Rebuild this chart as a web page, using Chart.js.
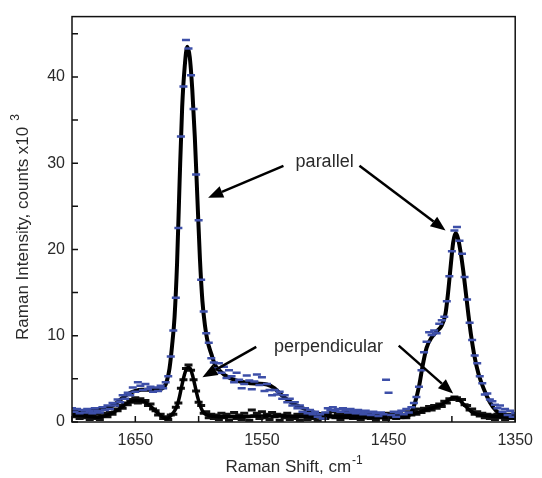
<!DOCTYPE html>
<html>
<head>
<meta charset="utf-8">
<script src="https://cdn.jsdelivr.net/npm/chart.js@4.4.1/dist/chart.umd.min.js"></script>
<style>
  html, body { margin: 0; padding: 0; background: #fff; }
  #wrap { width: 542px; height: 478px; }
</style>
</head>
<body>
<div id="wrap"><canvas id="grafico-raman" width="542" height="478"></canvas></div>
<script>
// Raman shift of the measured points, cm-1 (axis runs high -> low)
const shift = [
  1700,1698,1696,1694,1692,1690,1688,1686,1684,1682,
  1680,1678,1676,1674,1672,1670,1668,1666,1664,1662,
  1660,1658,1656,1654,1652,1650,1648,1646,1644,1642,
  1640,1638,1636,1634,1632,1630,1628,1626,1624,1622,
  1620,1618,1616,1614,1612,1610,1608,1606,1604,1602,
  1600,1598,1596,1594,1592,1590,1588,1586,1584,1582,
  1580,1578,1576,1574,1572,1570,1568,1566,1564,1562,
  1560,1558,1556,1554,1552,1550,1548,1546,1544,1542,
  1540,1538,1536,1534,1532,1530,1528,1526,1524,1522,
  1520,1518,1516,1514,1512,1510,1508,1506,1504,1502,
  1500,1498,1496,1494,1492,1490,1488,1486,1484,1482,
  1480,1478,1476,1474,1472,1470,1468,1466,1464,1462,
  1460,1458,1456,1454,1452,1450,1448,1446,1444,1442,
  1440,1438,1436,1434,1432,1430,1428,1426,1424,1422,
  1420,1418,1416,1414,1412,1410,1408,1406,1404,1402,
  1400,1398,1396,1394,1392,1390,1388,1386,1384,1382,
  1380,1378,1376,1374,1372,1370,1368,1366,1364,1362,
  1360,1358,1356,1354,1352,1350
];

// parallel polarisation, measured (counts x10^3)
const parData = [
  1.6,1.2,1.5,1.0,1.4,1.1,1.5,1.3,1.0,1.6,
  1.3,1.1,1.7,1.4,1.9,1.5,2.2,1.9,2.6,2.3,
  3.1,2.7,3.4,3.1,4.0,3.5,4.6,4.2,3.7,4.4,
  3.8,4.1,3.5,4.0,3.6,4.2,3.9,4.6,5.3,7.6,
  10.6,14.4,22.5,33.1,38.9,44.3,43.3,40.2,36.3,28.7,
  23.4,16.5,12.8,10.3,9.2,7.4,6.9,6.2,6.8,5.7,
  6.4,5.1,6.0,5.3,4.6,5.7,4.9,3.9,4.4,5.4,
  4.8,3.8,4.7,5.5,4.3,5.2,3.6,4.4,3.7,3.1,
  3.7,3.2,3.5,2.7,3.1,2.3,2.7,1.9,2.3,1.6,
  1.9,1.2,1.6,1.0,1.4,0.9,1.2,0.6,0.9,0.4,
  1.1,1.6,1.4,1.7,1.3,1.5,1.2,1.6,1.4,1.1,
  1.5,1.3,1.0,1.4,1.2,0.9,1.3,1.1,0.8,1.2,
  1.0,0.7,1.1,0.9,4.9,3.4,0.8,1.2,0.6,1.0,
  1.3,0.9,1.5,1.1,1.7,2.2,2.9,4.1,6.0,8.1,
  9.3,10.4,10.1,10.6,10.3,11.4,11.8,12.2,14.0,16.9,
  19.8,22.2,22.6,21.0,19.5,16.8,14.2,11.5,9.5,7.7,
  6.8,5.3,4.5,3.2,3.3,2.6,2.4,2.0,1.6,1.9,
  1.2,1.5,0.8,1.3,0.6,1.0
];

// perpendicular polarisation, measured
const perpData = [
  1.2,0.6,1.0,0.4,1.1,0.5,0.9,0.3,0.8,0.4,
  0.9,0.3,0.7,1.0,0.6,1.1,0.9,1.5,1.3,1.9,
  1.6,2.2,2.0,2.6,2.3,2.8,2.2,2.7,2.3,2.5,
  1.9,2.1,1.5,1.3,0.8,0.9,0.4,0.6,0.3,0.8,
  0.9,1.7,2.2,3.9,4.9,6.2,6.6,6.0,4.9,3.6,
  2.3,1.9,1.0,1.2,0.5,0.9,0.4,0.8,0.3,1.0,
  0.5,0.9,0.2,0.7,1.1,0.4,0.8,0.3,1.0,0.6,
  0.2,1.4,0.7,1.0,0.4,1.2,0.5,0.9,0.3,1.1,
  0.6,0.9,0.2,0.8,0.5,1.0,0.3,0.7,0.4,0.9,
  0.2,0.6,0.9,0.3,0.7,0.4,0.8,0.2,0.6,0.9,
  0.4,1.0,0.6,1.2,0.5,0.9,0.3,0.8,1.1,0.5,
  0.9,0.4,0.7,1.0,0.3,0.8,0.5,1.0,0.4,0.7,
  0.2,0.9,0.5,0.8,0.3,1.0,0.6,0.9,0.4,1.1,
  0.6,0.9,0.5,1.2,0.8,1.3,0.9,1.5,1.1,1.6,
  1.3,1.8,1.4,1.9,1.6,2.1,1.8,2.4,2.2,2.7,
  2.6,2.9,2.8,2.5,2.6,2.0,1.9,1.4,1.5,0.9,
  1.2,0.7,1.0,0.5,0.9,0.4,0.8,0.3,0.9,0.5,
  0.8,0.3,0.9,0.4,0.8,0.5
];

// fitted curves
const fitShift = [
  1700,1690,1680,1670,1665,1660,1655,1650,1645,1640,
  1635,1630,1627,1625,1623,1621,1619,1617,1615,1613,
  1611,1609,1607,1605,1603,1601,1599,1597,1595,1593,
  1590,1587,1583,1578,1570,1562,1554,1546,1540,1535,
  1530,1525,1520,1510,1500,1490,1480,1470,1460,1450,
  1440,1435,1432,1429,1426,1423,1420,1416,1412,1408,
  1405,1403,1401,1399,1397,1395,1393,1391,1389,1387,
  1385,1382,1379,1375,1370,1365,1360,1355,1350
];
const parFit = [
  1.2,1.25,1.45,1.75,2.2,2.8,3.3,3.6,3.75,3.75,
  3.7,3.8,4.1,4.8,6.2,8.8,12.2,18.5,28,36.5,
  41.2,43.5,42.3,38.5,33,26,19,14,11.2,9.4,
  7.9,6.6,5.9,5.3,4.8,4.55,4.45,4.35,3.9,3.2,
  2.6,2.1,1.75,1.15,0.8,0.6,0.55,0.55,0.55,0.55,
  0.55,0.7,1.1,2.3,4.1,6.6,8.6,9.8,10.5,11.2,
  12.6,15,18,20.8,21.9,21.2,19.6,17.5,15,12.5,
  10.2,7.5,5.6,3.9,2.3,1.3,0.8,0.55,0.45
];
const perpFit = [
  0.8,0.7,0.55,0.9,1.3,1.8,2.3,2.5,2.45,2.1,
  1.4,0.75,0.45,0.4,0.55,0.9,1.3,1.9,3.0,4.4,
  5.6,6.3,6.3,5.5,4.3,3.0,2.0,1.3,0.95,0.8,
  0.7,0.65,0.6,0.6,0.6,0.65,0.7,0.7,0.7,0.7,
  0.7,0.65,0.65,0.6,0.6,0.65,0.7,0.7,0.7,0.7,
  0.75,0.8,0.9,1.0,1.15,1.3,1.45,1.6,1.8,2.05,
  2.3,2.5,2.7,2.8,2.8,2.65,2.4,2.1,1.8,1.5,
  1.25,1.0,0.85,0.75,0.7,0.65,0.6,0.6,0.6
];

const xTickLabels = [1650, 1550, 1450, 1350];
const yTickLabels = [0, 10, 20, 30, 40];

// annotations, in data units (shift, intensity)
const notes = [
  { text: 'parallel', x: 1500.5, y: 30.1 },
  { text: 'perpendicular', x: 1497.5, y: 8.7 }
];
const arrows = [
  { from: [1533, 29.7], to: [1592.5, 26.0] },
  { from: [1473, 29.7], to: [1405, 22.2] },
  { from: [1554.5, 8.7], to: [1597, 5.2] },
  { from: [1442, 8.85], to: [1399, 3.3] }
];

const FONT = "'Liberation Sans', Arial, sans-serif";
const TXT = '#2a2a2a';

const toXY = (xs, ys) => xs.map((x, i) => ({ x: x, y: ys[i] }));

function drawArrow(ctx, x0, y0, x1, y1) {
  const ang = Math.atan2(y1 - y0, x1 - x0);
  const len = 15, half = 6;
  const bx = x1 - len * Math.cos(ang), by = y1 - len * Math.sin(ang);
  ctx.beginPath();
  ctx.moveTo(x0, y0);
  ctx.lineTo(bx, by);
  ctx.stroke();
  ctx.beginPath();
  ctx.moveTo(x1, y1);
  ctx.lineTo(bx + half * Math.sin(ang), by - half * Math.cos(ang));
  ctx.lineTo(bx - half * Math.sin(ang), by + half * Math.cos(ang));
  ctx.closePath();
  ctx.fill();
}

const framePlugin = {
  id: 'frame',
  afterDatasetsDraw(chart) {
    const { ctx, chartArea: a, scales: { x, y } } = chart;
    ctx.save();
    // box + inward ticks
    ctx.strokeStyle = '#111';
    ctx.lineWidth = 1.5;
    ctx.strokeRect(a.left, a.top, a.right - a.left, a.bottom - a.top);
    ctx.beginPath();
    x.ticks.forEach(t => {
      const px = x.getPixelForValue(t.value);
      ctx.moveTo(px, a.bottom);
      ctx.lineTo(px, a.bottom - 6);
    });
    y.ticks.forEach(t => {
      const py = y.getPixelForValue(t.value);
      ctx.moveTo(a.left, py);
      ctx.lineTo(a.left + 6, py);
    });
    ctx.stroke();

    // labels and arrows
    ctx.fillStyle = TXT;
    ctx.font = '18px ' + FONT;
    ctx.textAlign = 'center';
    ctx.textBaseline = 'middle';
    notes.forEach(n => ctx.fillText(n.text, x.getPixelForValue(n.x), y.getPixelForValue(n.y)));
    ctx.strokeStyle = '#000';
    ctx.fillStyle = '#000';
    ctx.lineWidth = 2.5;
    arrows.forEach(ar => drawArrow(ctx,
      x.getPixelForValue(ar.from[0]), y.getPixelForValue(ar.from[1]),
      x.getPixelForValue(ar.to[0]), y.getPixelForValue(ar.to[1])));

    // axis titles with superscripts
    ctx.fillStyle = TXT;
    ctx.textAlign = 'left';
    ctx.textBaseline = 'alphabetic';
    const main = 'Raman Shift, cm';
    ctx.font = '17px ' + FONT;
    const w1 = ctx.measureText(main).width;
    ctx.font = '12px ' + FONT;
    const w2 = ctx.measureText('-1').width;
    const cx = (a.left + a.right) / 2;
    const x0 = cx - (w1 + w2) / 2;
    ctx.font = '17px ' + FONT;
    ctx.fillText(main, x0, 472);
    ctx.font = '12px ' + FONT;
    ctx.fillText('-1', x0 + w1 + 1, 464);

    const ymain = 'Raman Intensity, counts x10';
    ctx.font = '17px ' + FONT;
    const v1 = ctx.measureText(ymain).width;
    ctx.font = '12px ' + FONT;
    const v2 = ctx.measureText('3').width;
    const cy = 227;
    ctx.translate(28, cy);
    ctx.rotate(-Math.PI / 2);
    const s0 = -(v1 + 6 + v2) / 2;
    ctx.font = '17px ' + FONT;
    ctx.fillText(ymain, s0, 0);
    ctx.font = '12px ' + FONT;
    ctx.fillText('3', s0 + v1 + 6, -9);
    ctx.restore();
  }
};

new Chart(document.getElementById('grafico-raman').getContext('2d'), {
  type: 'line',
  data: {
    datasets: [
      {
        label: 'parallel',
        data: toXY(shift, parData),
        showLine: false,
        pointStyle: 'line',
        pointRadius: 4,
        pointBorderWidth: 2.5,
        borderColor: '#3d4fa8',
        backgroundColor: '#3d4fa8',
        order: 0
      },
      {
        label: 'parallel fit',
        data: toXY(fitShift, parFit),
        borderColor: '#000',
        borderWidth: 4,
        pointRadius: 0,
        cubicInterpolationMode: 'monotone',
        order: 1
      },
      {
        label: 'perpendicular fit',
        data: toXY(fitShift, perpFit),
        borderColor: '#000',
        borderWidth: 3.5,
        pointRadius: 0,
        cubicInterpolationMode: 'monotone',
        order: 2
      },
      {
        label: 'perpendicular',
        data: toXY(shift, perpData),
        showLine: false,
        pointStyle: 'line',
        pointRadius: 4,
        pointBorderWidth: 3,
        borderColor: '#111',
        backgroundColor: '#111',
        order: 3
      }
    ]
  },
  options: {
    responsive: false,
    animation: false,
    layout: { padding: { top: 13, right: 21, left: 0, bottom: 0 } },
    plugins: { legend: { display: false }, tooltip: { enabled: false } },
    scales: {
      x: {
        type: 'linear',
        reverse: true,
        min: 1350,
        max: 1700,
        afterFit: s => { s.height = 56; },
        grid: { display: false, drawTicks: false },
        border: { display: false },
        ticks: {
          stepSize: 50,
          autoSkip: false,
          maxRotation: 0,
          includeBounds: false,
          padding: 9,
          color: TXT,
          font: { family: FONT, size: 16 },
          callback: v => xTickLabels.includes(v) ? String(v) : ''
        }
      },
      y: {
        min: 0,
        max: 47,
        afterFit: s => { s.width = 72; },
        grid: { display: false, drawTicks: false },
        border: { display: false },
        ticks: {
          stepSize: 5,
          autoSkip: false,
          includeBounds: false,
          padding: 7,
          color: TXT,
          font: { family: FONT, size: 16 },
          callback: v => yTickLabels.includes(v) ? String(v) : ''
        }
      }
    }
  },
  plugins: [framePlugin]
});
</script>
</body>
</html>
